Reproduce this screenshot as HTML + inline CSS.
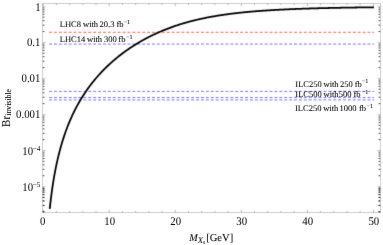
<!DOCTYPE html>
<html><head><meta charset="utf-8"><title>Br invisible</title>
<style>html,body{margin:0;padding:0;background:#fff;}body{width:383px;height:245px;overflow:hidden;}svg{display:block;}text{text-rendering:geometricPrecision;font-family:"Liberation Serif",serif;fill:#000;stroke:#000;stroke-width:0.06px;}text.tk{stroke-width:0;}</style>
</head><body>
<svg width="383" height="245" viewBox="0 0 383 245">
<rect x="0" y="0" width="383" height="245" fill="#fff"/>
<defs><filter id="soft" x="0" y="0" width="383" height="245" filterUnits="userSpaceOnUse" color-interpolation-filters="sRGB"><feConvolveMatrix order="3" kernelMatrix="0.015 0.075 0.015 0.075 0.64 0.075 0.015 0.075 0.015" edgeMode="duplicate" preserveAlpha="false"/></filter><filter id="txt" x="0" y="0" width="383" height="245" filterUnits="userSpaceOnUse" color-interpolation-filters="sRGB"><feConvolveMatrix order="3" kernelMatrix="0.0 0.035 0.0 0.035 0.86 0.035 0.0 0.035 0.0" edgeMode="duplicate" preserveAlpha="false"/></filter></defs>
<g filter="url(#soft)">
<rect x="42.5" y="3.5" width="338.0" height="209.0" fill="none" stroke="#cdcdcd" stroke-width="1"/>
<line x1="43.20" y1="212.5" x2="43.20" y2="209.9" stroke="#8a8a8a" stroke-width="0.6"/>
<line x1="43.20" y1="3.5" x2="43.20" y2="6.1" stroke="#8a8a8a" stroke-width="0.6"/>
<line x1="56.41" y1="212.5" x2="56.41" y2="210.9" stroke="#8a8a8a" stroke-width="0.6"/>
<line x1="56.41" y1="3.5" x2="56.41" y2="5.1" stroke="#8a8a8a" stroke-width="0.6"/>
<line x1="69.62" y1="212.5" x2="69.62" y2="210.9" stroke="#8a8a8a" stroke-width="0.6"/>
<line x1="69.62" y1="3.5" x2="69.62" y2="5.1" stroke="#8a8a8a" stroke-width="0.6"/>
<line x1="82.82" y1="212.5" x2="82.82" y2="210.9" stroke="#8a8a8a" stroke-width="0.6"/>
<line x1="82.82" y1="3.5" x2="82.82" y2="5.1" stroke="#8a8a8a" stroke-width="0.6"/>
<line x1="96.03" y1="212.5" x2="96.03" y2="210.9" stroke="#8a8a8a" stroke-width="0.6"/>
<line x1="96.03" y1="3.5" x2="96.03" y2="5.1" stroke="#8a8a8a" stroke-width="0.6"/>
<line x1="109.24" y1="212.5" x2="109.24" y2="209.9" stroke="#8a8a8a" stroke-width="0.6"/>
<line x1="109.24" y1="3.5" x2="109.24" y2="6.1" stroke="#8a8a8a" stroke-width="0.6"/>
<line x1="122.45" y1="212.5" x2="122.45" y2="210.9" stroke="#8a8a8a" stroke-width="0.6"/>
<line x1="122.45" y1="3.5" x2="122.45" y2="5.1" stroke="#8a8a8a" stroke-width="0.6"/>
<line x1="135.66" y1="212.5" x2="135.66" y2="210.9" stroke="#8a8a8a" stroke-width="0.6"/>
<line x1="135.66" y1="3.5" x2="135.66" y2="5.1" stroke="#8a8a8a" stroke-width="0.6"/>
<line x1="148.86" y1="212.5" x2="148.86" y2="210.9" stroke="#8a8a8a" stroke-width="0.6"/>
<line x1="148.86" y1="3.5" x2="148.86" y2="5.1" stroke="#8a8a8a" stroke-width="0.6"/>
<line x1="162.07" y1="212.5" x2="162.07" y2="210.9" stroke="#8a8a8a" stroke-width="0.6"/>
<line x1="162.07" y1="3.5" x2="162.07" y2="5.1" stroke="#8a8a8a" stroke-width="0.6"/>
<line x1="175.28" y1="212.5" x2="175.28" y2="209.9" stroke="#8a8a8a" stroke-width="0.6"/>
<line x1="175.28" y1="3.5" x2="175.28" y2="6.1" stroke="#8a8a8a" stroke-width="0.6"/>
<line x1="188.49" y1="212.5" x2="188.49" y2="210.9" stroke="#8a8a8a" stroke-width="0.6"/>
<line x1="188.49" y1="3.5" x2="188.49" y2="5.1" stroke="#8a8a8a" stroke-width="0.6"/>
<line x1="201.70" y1="212.5" x2="201.70" y2="210.9" stroke="#8a8a8a" stroke-width="0.6"/>
<line x1="201.70" y1="3.5" x2="201.70" y2="5.1" stroke="#8a8a8a" stroke-width="0.6"/>
<line x1="214.90" y1="212.5" x2="214.90" y2="210.9" stroke="#8a8a8a" stroke-width="0.6"/>
<line x1="214.90" y1="3.5" x2="214.90" y2="5.1" stroke="#8a8a8a" stroke-width="0.6"/>
<line x1="228.11" y1="212.5" x2="228.11" y2="210.9" stroke="#8a8a8a" stroke-width="0.6"/>
<line x1="228.11" y1="3.5" x2="228.11" y2="5.1" stroke="#8a8a8a" stroke-width="0.6"/>
<line x1="241.32" y1="212.5" x2="241.32" y2="209.9" stroke="#8a8a8a" stroke-width="0.6"/>
<line x1="241.32" y1="3.5" x2="241.32" y2="6.1" stroke="#8a8a8a" stroke-width="0.6"/>
<line x1="254.53" y1="212.5" x2="254.53" y2="210.9" stroke="#8a8a8a" stroke-width="0.6"/>
<line x1="254.53" y1="3.5" x2="254.53" y2="5.1" stroke="#8a8a8a" stroke-width="0.6"/>
<line x1="267.74" y1="212.5" x2="267.74" y2="210.9" stroke="#8a8a8a" stroke-width="0.6"/>
<line x1="267.74" y1="3.5" x2="267.74" y2="5.1" stroke="#8a8a8a" stroke-width="0.6"/>
<line x1="280.94" y1="212.5" x2="280.94" y2="210.9" stroke="#8a8a8a" stroke-width="0.6"/>
<line x1="280.94" y1="3.5" x2="280.94" y2="5.1" stroke="#8a8a8a" stroke-width="0.6"/>
<line x1="294.15" y1="212.5" x2="294.15" y2="210.9" stroke="#8a8a8a" stroke-width="0.6"/>
<line x1="294.15" y1="3.5" x2="294.15" y2="5.1" stroke="#8a8a8a" stroke-width="0.6"/>
<line x1="307.36" y1="212.5" x2="307.36" y2="209.9" stroke="#8a8a8a" stroke-width="0.6"/>
<line x1="307.36" y1="3.5" x2="307.36" y2="6.1" stroke="#8a8a8a" stroke-width="0.6"/>
<line x1="320.57" y1="212.5" x2="320.57" y2="210.9" stroke="#8a8a8a" stroke-width="0.6"/>
<line x1="320.57" y1="3.5" x2="320.57" y2="5.1" stroke="#8a8a8a" stroke-width="0.6"/>
<line x1="333.78" y1="212.5" x2="333.78" y2="210.9" stroke="#8a8a8a" stroke-width="0.6"/>
<line x1="333.78" y1="3.5" x2="333.78" y2="5.1" stroke="#8a8a8a" stroke-width="0.6"/>
<line x1="346.98" y1="212.5" x2="346.98" y2="210.9" stroke="#8a8a8a" stroke-width="0.6"/>
<line x1="346.98" y1="3.5" x2="346.98" y2="5.1" stroke="#8a8a8a" stroke-width="0.6"/>
<line x1="360.19" y1="212.5" x2="360.19" y2="210.9" stroke="#8a8a8a" stroke-width="0.6"/>
<line x1="360.19" y1="3.5" x2="360.19" y2="5.1" stroke="#8a8a8a" stroke-width="0.6"/>
<line x1="373.40" y1="212.5" x2="373.40" y2="209.9" stroke="#8a8a8a" stroke-width="0.6"/>
<line x1="373.40" y1="3.5" x2="373.40" y2="6.1" stroke="#8a8a8a" stroke-width="0.6"/>
<line x1="42.5" y1="6.30" x2="45.7" y2="6.30" stroke="#999" stroke-width="0.5"/>
<line x1="380.5" y1="6.30" x2="377.3" y2="6.30" stroke="#999" stroke-width="0.5"/>
<line x1="42.8" y1="31.50" x2="44.4" y2="31.50" stroke="#101010" stroke-width="0.8"/>
<line x1="380.2" y1="31.50" x2="378.6" y2="31.50" stroke="#101010" stroke-width="0.8"/>
<line x1="42.8" y1="25.15" x2="44.4" y2="25.15" stroke="#101010" stroke-width="0.8"/>
<line x1="380.2" y1="25.15" x2="378.6" y2="25.15" stroke="#101010" stroke-width="0.8"/>
<line x1="42.8" y1="20.65" x2="44.4" y2="20.65" stroke="#101010" stroke-width="0.8"/>
<line x1="380.2" y1="20.65" x2="378.6" y2="20.65" stroke="#101010" stroke-width="0.8"/>
<line x1="42.8" y1="17.15" x2="44.4" y2="17.15" stroke="#101010" stroke-width="0.8"/>
<line x1="380.2" y1="17.15" x2="378.6" y2="17.15" stroke="#101010" stroke-width="0.8"/>
<line x1="42.8" y1="14.30" x2="44.4" y2="14.30" stroke="#101010" stroke-width="0.8"/>
<line x1="380.2" y1="14.30" x2="378.6" y2="14.30" stroke="#101010" stroke-width="0.8"/>
<line x1="42.8" y1="11.88" x2="44.4" y2="11.88" stroke="#101010" stroke-width="0.8"/>
<line x1="380.2" y1="11.88" x2="378.6" y2="11.88" stroke="#101010" stroke-width="0.8"/>
<line x1="42.8" y1="9.79" x2="44.4" y2="9.79" stroke="#101010" stroke-width="0.8"/>
<line x1="380.2" y1="9.79" x2="378.6" y2="9.79" stroke="#101010" stroke-width="0.8"/>
<line x1="42.8" y1="7.95" x2="44.4" y2="7.95" stroke="#101010" stroke-width="0.8"/>
<line x1="380.2" y1="7.95" x2="378.6" y2="7.95" stroke="#101010" stroke-width="0.8"/>
<line x1="42.5" y1="42.35" x2="45.7" y2="42.35" stroke="#999" stroke-width="0.5"/>
<line x1="380.5" y1="42.35" x2="377.3" y2="42.35" stroke="#999" stroke-width="0.5"/>
<line x1="42.8" y1="67.55" x2="44.4" y2="67.55" stroke="#101010" stroke-width="0.8"/>
<line x1="380.2" y1="67.55" x2="378.6" y2="67.55" stroke="#101010" stroke-width="0.8"/>
<line x1="42.8" y1="61.20" x2="44.4" y2="61.20" stroke="#101010" stroke-width="0.8"/>
<line x1="380.2" y1="61.20" x2="378.6" y2="61.20" stroke="#101010" stroke-width="0.8"/>
<line x1="42.8" y1="56.70" x2="44.4" y2="56.70" stroke="#101010" stroke-width="0.8"/>
<line x1="380.2" y1="56.70" x2="378.6" y2="56.70" stroke="#101010" stroke-width="0.8"/>
<line x1="42.8" y1="53.20" x2="44.4" y2="53.20" stroke="#101010" stroke-width="0.8"/>
<line x1="380.2" y1="53.20" x2="378.6" y2="53.20" stroke="#101010" stroke-width="0.8"/>
<line x1="42.8" y1="50.35" x2="44.4" y2="50.35" stroke="#101010" stroke-width="0.8"/>
<line x1="380.2" y1="50.35" x2="378.6" y2="50.35" stroke="#101010" stroke-width="0.8"/>
<line x1="42.8" y1="47.93" x2="44.4" y2="47.93" stroke="#101010" stroke-width="0.8"/>
<line x1="380.2" y1="47.93" x2="378.6" y2="47.93" stroke="#101010" stroke-width="0.8"/>
<line x1="42.8" y1="45.84" x2="44.4" y2="45.84" stroke="#101010" stroke-width="0.8"/>
<line x1="380.2" y1="45.84" x2="378.6" y2="45.84" stroke="#101010" stroke-width="0.8"/>
<line x1="42.8" y1="44.00" x2="44.4" y2="44.00" stroke="#101010" stroke-width="0.8"/>
<line x1="380.2" y1="44.00" x2="378.6" y2="44.00" stroke="#101010" stroke-width="0.8"/>
<line x1="42.5" y1="78.40" x2="45.7" y2="78.40" stroke="#999" stroke-width="0.5"/>
<line x1="380.5" y1="78.40" x2="377.3" y2="78.40" stroke="#999" stroke-width="0.5"/>
<line x1="42.8" y1="103.60" x2="44.4" y2="103.60" stroke="#101010" stroke-width="0.8"/>
<line x1="380.2" y1="103.60" x2="378.6" y2="103.60" stroke="#101010" stroke-width="0.8"/>
<line x1="42.8" y1="97.25" x2="44.4" y2="97.25" stroke="#101010" stroke-width="0.8"/>
<line x1="380.2" y1="97.25" x2="378.6" y2="97.25" stroke="#101010" stroke-width="0.8"/>
<line x1="42.8" y1="92.75" x2="44.4" y2="92.75" stroke="#101010" stroke-width="0.8"/>
<line x1="380.2" y1="92.75" x2="378.6" y2="92.75" stroke="#101010" stroke-width="0.8"/>
<line x1="42.8" y1="89.25" x2="44.4" y2="89.25" stroke="#101010" stroke-width="0.8"/>
<line x1="380.2" y1="89.25" x2="378.6" y2="89.25" stroke="#101010" stroke-width="0.8"/>
<line x1="42.8" y1="86.40" x2="44.4" y2="86.40" stroke="#101010" stroke-width="0.8"/>
<line x1="380.2" y1="86.40" x2="378.6" y2="86.40" stroke="#101010" stroke-width="0.8"/>
<line x1="42.8" y1="83.98" x2="44.4" y2="83.98" stroke="#101010" stroke-width="0.8"/>
<line x1="380.2" y1="83.98" x2="378.6" y2="83.98" stroke="#101010" stroke-width="0.8"/>
<line x1="42.8" y1="81.89" x2="44.4" y2="81.89" stroke="#101010" stroke-width="0.8"/>
<line x1="380.2" y1="81.89" x2="378.6" y2="81.89" stroke="#101010" stroke-width="0.8"/>
<line x1="42.8" y1="80.05" x2="44.4" y2="80.05" stroke="#101010" stroke-width="0.8"/>
<line x1="380.2" y1="80.05" x2="378.6" y2="80.05" stroke="#101010" stroke-width="0.8"/>
<line x1="42.5" y1="114.45" x2="45.7" y2="114.45" stroke="#999" stroke-width="0.5"/>
<line x1="380.5" y1="114.45" x2="377.3" y2="114.45" stroke="#999" stroke-width="0.5"/>
<line x1="42.8" y1="139.65" x2="44.4" y2="139.65" stroke="#101010" stroke-width="0.8"/>
<line x1="380.2" y1="139.65" x2="378.6" y2="139.65" stroke="#101010" stroke-width="0.8"/>
<line x1="42.8" y1="133.30" x2="44.4" y2="133.30" stroke="#101010" stroke-width="0.8"/>
<line x1="380.2" y1="133.30" x2="378.6" y2="133.30" stroke="#101010" stroke-width="0.8"/>
<line x1="42.8" y1="128.80" x2="44.4" y2="128.80" stroke="#101010" stroke-width="0.8"/>
<line x1="380.2" y1="128.80" x2="378.6" y2="128.80" stroke="#101010" stroke-width="0.8"/>
<line x1="42.8" y1="125.30" x2="44.4" y2="125.30" stroke="#101010" stroke-width="0.8"/>
<line x1="380.2" y1="125.30" x2="378.6" y2="125.30" stroke="#101010" stroke-width="0.8"/>
<line x1="42.8" y1="122.45" x2="44.4" y2="122.45" stroke="#101010" stroke-width="0.8"/>
<line x1="380.2" y1="122.45" x2="378.6" y2="122.45" stroke="#101010" stroke-width="0.8"/>
<line x1="42.8" y1="120.03" x2="44.4" y2="120.03" stroke="#101010" stroke-width="0.8"/>
<line x1="380.2" y1="120.03" x2="378.6" y2="120.03" stroke="#101010" stroke-width="0.8"/>
<line x1="42.8" y1="117.94" x2="44.4" y2="117.94" stroke="#101010" stroke-width="0.8"/>
<line x1="380.2" y1="117.94" x2="378.6" y2="117.94" stroke="#101010" stroke-width="0.8"/>
<line x1="42.8" y1="116.10" x2="44.4" y2="116.10" stroke="#101010" stroke-width="0.8"/>
<line x1="380.2" y1="116.10" x2="378.6" y2="116.10" stroke="#101010" stroke-width="0.8"/>
<line x1="42.5" y1="150.50" x2="45.7" y2="150.50" stroke="#999" stroke-width="0.5"/>
<line x1="380.5" y1="150.50" x2="377.3" y2="150.50" stroke="#999" stroke-width="0.5"/>
<line x1="42.8" y1="175.70" x2="44.4" y2="175.70" stroke="#101010" stroke-width="0.8"/>
<line x1="380.2" y1="175.70" x2="378.6" y2="175.70" stroke="#101010" stroke-width="0.8"/>
<line x1="42.8" y1="169.35" x2="44.4" y2="169.35" stroke="#101010" stroke-width="0.8"/>
<line x1="380.2" y1="169.35" x2="378.6" y2="169.35" stroke="#101010" stroke-width="0.8"/>
<line x1="42.8" y1="164.85" x2="44.4" y2="164.85" stroke="#101010" stroke-width="0.8"/>
<line x1="380.2" y1="164.85" x2="378.6" y2="164.85" stroke="#101010" stroke-width="0.8"/>
<line x1="42.8" y1="161.35" x2="44.4" y2="161.35" stroke="#101010" stroke-width="0.8"/>
<line x1="380.2" y1="161.35" x2="378.6" y2="161.35" stroke="#101010" stroke-width="0.8"/>
<line x1="42.8" y1="158.50" x2="44.4" y2="158.50" stroke="#101010" stroke-width="0.8"/>
<line x1="380.2" y1="158.50" x2="378.6" y2="158.50" stroke="#101010" stroke-width="0.8"/>
<line x1="42.8" y1="156.08" x2="44.4" y2="156.08" stroke="#101010" stroke-width="0.8"/>
<line x1="380.2" y1="156.08" x2="378.6" y2="156.08" stroke="#101010" stroke-width="0.8"/>
<line x1="42.8" y1="153.99" x2="44.4" y2="153.99" stroke="#101010" stroke-width="0.8"/>
<line x1="380.2" y1="153.99" x2="378.6" y2="153.99" stroke="#101010" stroke-width="0.8"/>
<line x1="42.8" y1="152.15" x2="44.4" y2="152.15" stroke="#101010" stroke-width="0.8"/>
<line x1="380.2" y1="152.15" x2="378.6" y2="152.15" stroke="#101010" stroke-width="0.8"/>
<line x1="42.5" y1="186.55" x2="45.7" y2="186.55" stroke="#999" stroke-width="0.5"/>
<line x1="380.5" y1="186.55" x2="377.3" y2="186.55" stroke="#999" stroke-width="0.5"/>
<line x1="42.8" y1="211.75" x2="44.4" y2="211.75" stroke="#101010" stroke-width="0.8"/>
<line x1="380.2" y1="211.75" x2="378.6" y2="211.75" stroke="#101010" stroke-width="0.8"/>
<line x1="42.8" y1="205.40" x2="44.4" y2="205.40" stroke="#101010" stroke-width="0.8"/>
<line x1="380.2" y1="205.40" x2="378.6" y2="205.40" stroke="#101010" stroke-width="0.8"/>
<line x1="42.8" y1="200.90" x2="44.4" y2="200.90" stroke="#101010" stroke-width="0.8"/>
<line x1="380.2" y1="200.90" x2="378.6" y2="200.90" stroke="#101010" stroke-width="0.8"/>
<line x1="42.8" y1="197.40" x2="44.4" y2="197.40" stroke="#101010" stroke-width="0.8"/>
<line x1="380.2" y1="197.40" x2="378.6" y2="197.40" stroke="#101010" stroke-width="0.8"/>
<line x1="42.8" y1="194.55" x2="44.4" y2="194.55" stroke="#101010" stroke-width="0.8"/>
<line x1="380.2" y1="194.55" x2="378.6" y2="194.55" stroke="#101010" stroke-width="0.8"/>
<line x1="42.8" y1="192.13" x2="44.4" y2="192.13" stroke="#101010" stroke-width="0.8"/>
<line x1="380.2" y1="192.13" x2="378.6" y2="192.13" stroke="#101010" stroke-width="0.8"/>
<line x1="42.8" y1="190.04" x2="44.4" y2="190.04" stroke="#101010" stroke-width="0.8"/>
<line x1="380.2" y1="190.04" x2="378.6" y2="190.04" stroke="#101010" stroke-width="0.8"/>
<line x1="42.8" y1="188.20" x2="44.4" y2="188.20" stroke="#101010" stroke-width="0.8"/>
<line x1="380.2" y1="188.20" x2="378.6" y2="188.20" stroke="#101010" stroke-width="0.8"/>
<line x1="42.8" y1="211.75" x2="44.4" y2="211.75" stroke="#101010" stroke-width="0.8"/>
<line x1="380.2" y1="211.75" x2="378.6" y2="211.75" stroke="#101010" stroke-width="0.8"/>
<line x1="42.8" y1="205.40" x2="44.4" y2="205.40" stroke="#101010" stroke-width="0.8"/>
<line x1="380.2" y1="205.40" x2="378.6" y2="205.40" stroke="#101010" stroke-width="0.8"/>
<line x1="42.8" y1="200.90" x2="44.4" y2="200.90" stroke="#101010" stroke-width="0.8"/>
<line x1="380.2" y1="200.90" x2="378.6" y2="200.90" stroke="#101010" stroke-width="0.8"/>
<line x1="42.8" y1="197.40" x2="44.4" y2="197.40" stroke="#101010" stroke-width="0.8"/>
<line x1="380.2" y1="197.40" x2="378.6" y2="197.40" stroke="#101010" stroke-width="0.8"/>
<line x1="42.8" y1="194.55" x2="44.4" y2="194.55" stroke="#101010" stroke-width="0.8"/>
<line x1="380.2" y1="194.55" x2="378.6" y2="194.55" stroke="#101010" stroke-width="0.8"/>
<line x1="42.8" y1="192.13" x2="44.4" y2="192.13" stroke="#101010" stroke-width="0.8"/>
<line x1="380.2" y1="192.13" x2="378.6" y2="192.13" stroke="#101010" stroke-width="0.8"/>
<line x1="42.8" y1="190.04" x2="44.4" y2="190.04" stroke="#101010" stroke-width="0.8"/>
<line x1="380.2" y1="190.04" x2="378.6" y2="190.04" stroke="#101010" stroke-width="0.8"/>
<line x1="42.8" y1="188.20" x2="44.4" y2="188.20" stroke="#101010" stroke-width="0.8"/>
<line x1="380.2" y1="188.20" x2="378.6" y2="188.20" stroke="#101010" stroke-width="0.8"/>
<line x1="49.10" y1="32.30" x2="374.10" y2="32.30" stroke="#ff4646" stroke-width="0.85" stroke-dasharray="2.95 1.949" opacity="1"/>
<line x1="49.10" y1="44.00" x2="374.10" y2="44.00" stroke="#b0b0ff" stroke-width="1.75" stroke-dasharray="2.95 1.949" opacity="1"/>
<line x1="49.10" y1="91.36" x2="374.10" y2="91.36" stroke="#6060ff" stroke-width="0.85" stroke-dasharray="2.95 1.949" opacity="1"/>
<line x1="49.10" y1="97.57" x2="374.10" y2="97.57" stroke="#6060ff" stroke-width="0.85" stroke-dasharray="2.95 1.949" opacity="1"/>
<line x1="49.10" y1="99.92" x2="374.10" y2="99.92" stroke="#6060ff" stroke-width="0.85" stroke-dasharray="2.95 1.949" opacity="1"/>
<path d="M49.74,208.88 L50.40,202.86 L51.06,197.36 L51.72,192.31 L52.38,187.63 L53.04,183.28 L53.70,179.21 L54.36,175.39 L55.02,171.79 L55.68,168.39 L56.34,165.16 L57.00,162.09 L57.66,159.16 L58.32,156.37 L58.98,153.69 L59.64,151.12 L60.30,148.66 L60.96,146.29 L61.63,144.00 L62.29,141.80 L62.95,139.67 L63.61,137.61 L64.27,135.61 L64.93,133.68 L65.59,131.80 L66.25,129.98 L66.91,128.22 L67.57,126.50 L68.23,124.82 L68.89,123.19 L69.55,121.60 L70.21,120.05 L70.87,118.54 L71.53,117.07 L72.19,115.63 L72.85,114.22 L73.51,112.84 L74.17,111.49 L74.83,110.17 L75.49,108.88 L76.15,107.61 L76.81,106.37 L77.47,105.16 L78.14,103.96 L78.80,102.79 L79.46,101.64 L80.12,100.52 L80.78,99.41 L81.44,98.32 L82.10,97.25 L82.76,96.20 L83.42,95.17 L84.08,94.15 L84.74,93.15 L85.40,92.17 L86.06,91.20 L86.72,90.24 L87.38,89.31 L88.04,88.38 L88.70,87.47 L89.36,86.57 L90.02,85.69 L90.68,84.82 L91.34,83.96 L92.00,83.11 L92.66,82.28 L93.32,81.45 L93.98,80.64 L94.65,79.84 L95.31,79.05 L95.97,78.27 L96.63,77.49 L97.29,76.73 L97.95,75.98 L98.61,75.24 L99.27,74.51 L99.93,73.78 L100.59,73.07 L101.25,72.36 L101.91,71.67 L102.57,70.98 L103.23,70.29 L103.89,69.62 L104.55,68.96 L105.21,68.30 L105.87,67.65 L106.53,67.00 L107.19,66.37 L107.85,65.74 L108.51,65.12 L109.17,64.50 L109.83,63.89 L110.49,63.29 L111.16,62.70 L111.82,62.11 L112.48,61.53 L113.14,60.95 L113.80,60.38 L114.46,59.81 L115.12,59.26 L115.78,58.70 L116.44,58.16 L117.10,57.61 L117.76,57.08 L118.42,56.55 L119.08,56.02 L119.74,55.50 L120.40,54.99 L121.06,54.48 L121.72,53.98 L122.38,53.48 L123.04,52.98 L123.70,52.49 L124.36,52.01 L125.02,51.53 L125.68,51.05 L126.34,50.58 L127.00,50.12 L127.67,49.66 L128.33,49.20 L128.99,48.75 L129.65,48.30 L130.31,47.86 L130.97,47.42 L131.63,46.98 L132.29,46.55 L132.95,46.13 L133.61,45.70 L134.27,45.28 L134.93,44.87 L135.59,44.46 L136.25,44.05 L136.91,43.65 L137.57,43.25 L138.23,42.86 L138.89,42.47 L139.55,42.08 L140.21,41.69 L140.87,41.31 L141.53,40.94 L142.19,40.56 L142.85,40.20 L143.51,39.83 L144.18,39.47 L144.84,39.11 L145.50,38.75 L146.16,38.40 L146.82,38.05 L147.48,37.71 L148.14,37.37 L148.80,37.03 L149.46,36.69 L150.12,36.36 L150.78,36.03 L151.44,35.71 L152.10,35.39 L152.76,35.07 L153.42,34.75 L154.08,34.44 L154.74,34.13 L155.40,33.82 L156.06,33.52 L156.72,33.22 L157.38,32.92 L158.04,32.63 L158.70,32.34 L159.36,32.05 L160.02,31.76 L160.69,31.48 L161.35,31.20 L162.01,30.92 L162.67,30.65 L163.33,30.37 L163.99,30.11 L164.65,29.84 L165.31,29.58 L165.97,29.31 L166.63,29.06 L167.29,28.80 L167.95,28.55 L168.61,28.30 L169.27,28.05 L169.93,27.81 L170.59,27.56 L171.25,27.32 L171.91,27.09 L172.57,26.85 L173.23,26.62 L173.89,26.39 L174.55,26.16 L175.21,25.94 L175.87,25.71 L176.53,25.49 L177.20,25.28 L177.86,25.06 L178.52,24.85 L179.18,24.64 L179.84,24.43 L180.50,24.22 L181.16,24.02 L181.82,23.81 L182.48,23.61 L183.14,23.42 L183.80,23.22 L184.46,23.03 L185.12,22.84 L185.78,22.65 L186.44,22.46 L187.10,22.28 L187.76,22.09 L188.42,21.91 L189.08,21.73 L189.74,21.56 L190.40,21.38 L191.06,21.21 L191.72,21.04 L192.38,20.87 L193.04,20.70 L193.71,20.54 L194.37,20.37 L195.03,20.21 L195.69,20.05 L196.35,19.90 L197.01,19.74 L197.67,19.59 L198.33,19.43 L198.99,19.28 L199.65,19.13 L200.31,18.99 L200.97,18.84 L201.63,18.70 L202.29,18.56 L202.95,18.42 L203.61,18.28 L204.27,18.14 L204.93,18.01 L205.59,17.87 L206.25,17.74 L206.91,17.61 L207.57,17.48 L208.23,17.35 L208.89,17.23 L209.55,17.10 L210.22,16.98 L210.88,16.86 L211.54,16.74 L212.20,16.62 L212.86,16.50 L213.52,16.38 L214.18,16.27 L214.84,16.16 L215.50,16.04 L216.16,15.93 L216.82,15.82 L217.48,15.72 L218.14,15.61 L218.80,15.50 L219.46,15.40 L220.12,15.30 L220.78,15.20 L221.44,15.10 L222.10,15.00 L222.76,14.90 L223.42,14.80 L224.08,14.71 L224.74,14.61 L225.40,14.52 L226.06,14.43 L226.73,14.34 L227.39,14.25 L228.05,14.16 L228.71,14.07 L229.37,13.98 L230.03,13.90 L230.69,13.81 L231.35,13.73 L232.01,13.65 L232.67,13.56 L233.33,13.48 L233.99,13.40 L234.65,13.33 L235.31,13.25 L235.97,13.17 L236.63,13.10 L237.29,13.02 L237.95,12.95 L238.61,12.87 L239.27,12.80 L239.93,12.73 L240.59,12.66 L241.25,12.59 L241.91,12.52 L242.57,12.45 L243.24,12.39 L243.90,12.32 L244.56,12.26 L245.22,12.19 L245.88,12.13 L246.54,12.06 L247.20,12.00 L247.86,11.94 L248.52,11.88 L249.18,11.82 L249.84,11.76 L250.50,11.70 L251.16,11.64 L251.82,11.59 L252.48,11.53 L253.14,11.47 L253.80,11.42 L254.46,11.36 L255.12,11.31 L255.78,11.26 L256.44,11.21 L257.10,11.15 L257.76,11.10 L258.42,11.05 L259.08,11.00 L259.75,10.95 L260.41,10.90 L261.07,10.86 L261.73,10.81 L262.39,10.76 L263.05,10.71 L263.71,10.67 L264.37,10.62 L265.03,10.58 L265.69,10.53 L266.35,10.49 L267.01,10.45 L267.67,10.40 L268.33,10.36 L268.99,10.32 L269.65,10.28 L270.31,10.24 L270.97,10.20 L271.63,10.16 L272.29,10.12 L272.95,10.08 L273.61,10.04 L274.27,10.00 L274.93,9.97 L275.59,9.93 L276.26,9.89 L276.92,9.86 L277.58,9.82 L278.24,9.79 L278.90,9.75 L279.56,9.72 L280.22,9.68 L280.88,9.65 L281.54,9.61 L282.20,9.58 L282.86,9.55 L283.52,9.52 L284.18,9.49 L284.84,9.45 L285.50,9.42 L286.16,9.39 L286.82,9.36 L287.48,9.33 L288.14,9.30 L288.80,9.27 L289.46,9.24 L290.12,9.22 L290.78,9.19 L291.44,9.16 L292.10,9.13 L292.77,9.10 L293.43,9.08 L294.09,9.05 L294.75,9.02 L295.41,9.00 L296.07,8.97 L296.73,8.95 L297.39,8.92 L298.05,8.90 L298.71,8.87 L299.37,8.85 L300.03,8.82 L300.69,8.80 L301.35,8.78 L302.01,8.75 L302.67,8.73 L303.33,8.71 L303.99,8.68 L304.65,8.66 L305.31,8.64 L305.97,8.62 L306.63,8.60 L307.29,8.58 L307.95,8.55 L308.61,8.53 L309.28,8.51 L309.94,8.49 L310.60,8.47 L311.26,8.45 L311.92,8.43 L312.58,8.41 L313.24,8.39 L313.90,8.37 L314.56,8.36 L315.22,8.34 L315.88,8.32 L316.54,8.30 L317.20,8.28 L317.86,8.26 L318.52,8.25 L319.18,8.23 L319.84,8.21 L320.50,8.20 L321.16,8.18 L321.82,8.16 L322.48,8.14 L323.14,8.13 L323.80,8.11 L324.46,8.10 L325.12,8.08 L325.79,8.06 L326.45,8.05 L327.11,8.03 L327.77,8.02 L328.43,8.00 L329.09,7.99 L329.75,7.97 L330.41,7.96 L331.07,7.95 L331.73,7.93 L332.39,7.92 L333.05,7.90 L333.71,7.89 L334.37,7.88 L335.03,7.86 L335.69,7.85 L336.35,7.84 L337.01,7.82 L337.67,7.81 L338.33,7.80 L338.99,7.78 L339.65,7.77 L340.31,7.76 L340.97,7.75 L341.63,7.73 L342.30,7.72 L342.96,7.71 L343.62,7.70 L344.28,7.69 L344.94,7.67 L345.60,7.66 L346.26,7.65 L346.92,7.64 L347.58,7.63 L348.24,7.62 L348.90,7.61 L349.56,7.60 L350.22,7.59 L350.88,7.58 L351.54,7.57 L352.20,7.55 L352.86,7.54 L353.52,7.53 L354.18,7.52 L354.84,7.51 L355.50,7.50 L356.16,7.49 L356.82,7.49 L357.48,7.48 L358.14,7.47 L358.81,7.46 L359.47,7.45 L360.13,7.44 L360.79,7.43 L361.45,7.42 L362.11,7.41 L362.77,7.40 L363.43,7.39 L364.09,7.38 L364.75,7.38 L365.41,7.37 L366.07,7.36 L366.73,7.35 L367.39,7.34 L368.05,7.33 L368.71,7.33 L369.37,7.32 L370.03,7.31 L370.69,7.30 L371.35,7.29 L372.01,7.29 L372.67,7.28 L373.33,7.27 L373.99,7.26" fill="none" stroke="#000" stroke-width="1.78" stroke-linejoin="round" stroke-linecap="butt"/>
</g><g filter="url(#txt)">
<text class="tk" transform="translate(42.70,224.70) scale(0.915,1)" font-size="11.8" text-anchor="middle">0</text>
<text class="tk" transform="translate(109.64,224.70) scale(0.915,1)" font-size="11.8" text-anchor="middle">10</text>
<text class="tk" transform="translate(175.68,224.70) scale(0.915,1)" font-size="11.8" text-anchor="middle">20</text>
<text class="tk" transform="translate(241.72,224.70) scale(0.915,1)" font-size="11.8" text-anchor="middle">30</text>
<text class="tk" transform="translate(307.76,224.70) scale(0.915,1)" font-size="11.8" text-anchor="middle">40</text>
<text class="tk" transform="translate(373.80,224.70) scale(0.915,1)" font-size="11.8" text-anchor="middle">50</text>
<text class="tk" transform="translate(40.70,10.50) scale(0.915,1)" font-size="11.8" text-anchor="end">1</text>
<text class="tk" transform="translate(40.40,46.35) scale(0.915,1)" font-size="11.8" text-anchor="end">0.1</text>
<text class="tk" transform="translate(40.40,82.40) scale(0.915,1)" font-size="11.8" text-anchor="end">0.01</text>
<text class="tk" transform="translate(40.40,118.45) scale(0.915,1)" font-size="11.8" text-anchor="end">0.001</text>
<text class="tk" transform="translate(40.4,154.60) scale(0.915,1)" font-size="11.8" text-anchor="end">10<tspan dy="-4.1" dx="-0.3" font-size="7.8">−4</tspan></text>
<text class="tk" transform="translate(40.4,190.65) scale(0.915,1)" font-size="11.8" text-anchor="end">10<tspan dy="-4.1" dx="-0.3" font-size="7.8">−5</tspan></text>
<text y="26.8" font-size="8.5"><tspan x="59.7">LHC8</tspan><tspan x="83.0">with</tspan><tspan x="99.5">20.3</tspan><tspan x="116.5">fb</tspan><tspan x="123.6" dy="-3.1" font-size="6.2">−1</tspan></text>
<text y="42.0" font-size="8.5"><tspan x="59.7">LHC14</tspan><tspan x="87.0">with</tspan><tspan x="103.9">300</tspan><tspan x="118.3">fb</tspan><tspan x="125.9" dy="-3.1" font-size="6.2">−1</tspan></text>
<text y="86.5" font-size="8.5"><tspan x="295.3">ILC250</tspan><tspan x="323.5">with</tspan><tspan x="339.9">250</tspan><tspan x="354.7">fb</tspan><tspan x="361.8" dy="-3.1" font-size="6.2">−1</tspan></text>
<text y="97.2" font-size="8.5"><tspan x="295.3">ILC500</tspan><tspan x="323.5">with</tspan><tspan x="338.8">500</tspan><tspan x="353.4">fb</tspan><tspan x="361.7" dy="-3.1" font-size="6.2">−1</tspan></text>
<text y="111.2" font-size="8.5"><tspan x="295.0">ILC250</tspan><tspan x="323.2">with</tspan><tspan x="339.6">1000</tspan><tspan x="358.9">fb</tspan><tspan x="366.5" dy="-3.1" font-size="6.2">−1</tspan></text>
<text x="189.3" y="240.6" font-size="10.2"><tspan font-style="italic">M</tspan><tspan dy="1.9" font-size="8.6" font-style="italic">X</tspan><tspan dy="1.2" font-size="5.6" font-style="italic">s</tspan><tspan dy="-3.1" dx="0.9" font-size="10.6">[GeV]</tspan></text>
<text transform="translate(10.0,126.9) rotate(-90) scale(0.9,1)" font-size="12.2">Br<tspan dy="1.0" dx="0.3" font-size="8.6">invisible</tspan></text>
</g></svg></body></html>
